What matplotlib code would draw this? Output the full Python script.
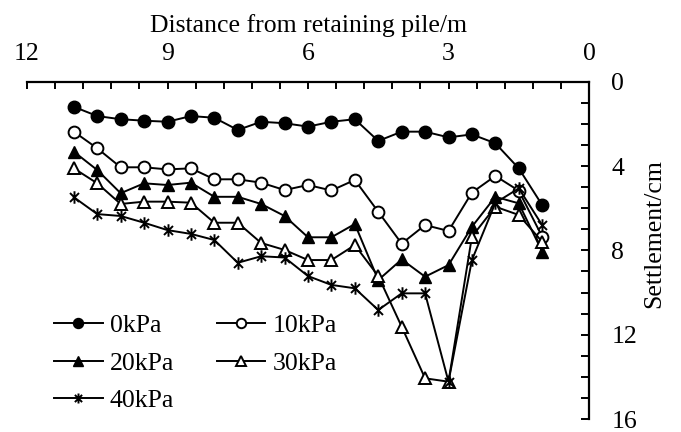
import matplotlib
matplotlib.use("Agg")
import matplotlib.pyplot as plt
from matplotlib.path import Path
from matplotlib.ticker import MultipleLocator, FixedLocator

plt.rcParams['font.family'] = ['Liberation Serif', 'DejaVu Serif']

distance = [11, 10.5, 10, 9.5, 9, 8.5, 8, 7.5, 7, 6.5, 6, 5.5, 5, 4.5, 4, 3.5, 3, 2.5, 2, 1.5, 1]

s0 = [1.19, 1.63, 1.78, 1.85, 1.90, 1.63, 1.71, 2.29, 1.90, 1.97, 2.13, 1.90, 1.78,
      2.81, 2.37, 2.37, 2.64, 2.50, 2.92, 4.11, 5.85]
s10 = [2.37, 3.16, 4.06, 4.06, 4.16, 4.11, 4.63, 4.63, 4.79, 5.14, 4.90, 5.16, 4.66,
       6.17, 7.68, 6.80, 7.08, 5.26, 4.47, 5.17, 7.35]
s20 = [3.32, 4.19, 5.29, 4.82, 4.90, 4.79, 5.46, 5.46, 5.80, 6.37, 7.38, 7.38, 6.75,
       9.41, 8.43, 9.25, 8.70, 6.88, 5.46, 5.77, 8.06]
s30 = [4.11, 4.82, 5.80, 5.69, 5.69, 5.74, 6.69, 6.69, 7.65, 7.98, 8.46, 8.46, 7.75,
       9.22, 11.62, 14.07, 14.23, 7.35, 5.93, 6.32, 7.59]
s40 = [5.48, 6.28, 6.37, 6.69, 7.04, 7.22, 7.51, 8.59, 8.28, 8.34, 9.22, 9.64, 9.80,
       10.83, 10.04, 10.04, 14.23, 8.46, 5.75, 5.06, 6.80]

labels = ['0kPa', '10kPa', '20kPa', '30kPa', '40kPa']
x_ticks = [12, 9, 6, 3, 0]
y_ticks = [0, 4, 8, 12, 16]

star = Path([(0, -1), (0, 1), (-0.72, -0.72), (0.72, 0.72), (-0.72, 0.72), (0.72, -0.72)],
            [Path.MOVETO, Path.LINETO] * 3)

FS = 18.5

fig = plt.figure(figsize=(6.81, 4.32), dpi=100)
ax = fig.add_axes([27 / 681, 1 - 419 / 432, (589 - 27) / 681, (419 - 81.7) / 432])

lw = 1.4
h0, = ax.plot(distance, s0, color='black', lw=lw, marker='o', ms=9, mfc='black', mec='black', label=labels[0])
h1, = ax.plot(distance, s10, color='black', lw=lw, marker='o', ms=8.5, mfc='white', mec='black', mew=1.4, label=labels[1])
h2, = ax.plot(distance, s20, color='black', lw=lw, marker='^', ms=9, mfc='black', mec='black', label=labels[2])
h3, = ax.plot(distance, s30, color='black', lw=lw, marker='^', ms=9, mfc='white', mec='black', mew=1.4, label=labels[3])
h4, = ax.plot(distance, s40, color='black', lw=lw, marker=star, ms=9, mfc='none', mec='black', mew=1.4, label=labels[4])

ax.set_xlim(12, 0)
ax.set_ylim(16, 0)

for side in ['left', 'bottom']:
    ax.spines[side].set_visible(False)
for side in ['top', 'right']:
    ax.spines[side].set_linewidth(1.6)

ax.xaxis.set_ticks_position('top')
ax.xaxis.set_label_position('top')
ax.yaxis.set_ticks_position('right')
ax.yaxis.set_label_position('right')

ax.xaxis.set_major_locator(FixedLocator(x_ticks))
ax.xaxis.set_minor_locator(MultipleLocator(0.6))
ax.yaxis.set_major_locator(FixedLocator(y_ticks))
ax.yaxis.set_minor_locator(MultipleLocator(1))

ax.tick_params(axis='x', which='both', direction='in', length=5, width=1.4, top=True, bottom=False,
               labeltop=True, labelbottom=False, labelsize=FS, pad=12)
ax.tick_params(axis='y', which='both', direction='in', length=6, width=1.4, right=True, left=False,
               labelright=True, labelleft=False, labelsize=FS, pad=16)

ax.set_xlabel('Distance from retaining pile/m', fontsize=FS, labelpad=8)
ax.set_ylabel('Settlement/cm', fontsize=FS, rotation=90)
ax.yaxis.set_label_coords(1.097, 0.55)

handles = [h0, h2, h4, h1, h3]
leg = ax.legend(handles, [h.get_label() for h in handles], ncol=2, frameon=False,
                loc='upper left', bbox_to_anchor=(54 / 681, 1 - 314 / 432),
                bbox_transform=fig.transFigure, fontsize=FS, handlelength=1.9,
                handletextpad=0.27, columnspacing=1.65, labelspacing=0.57, borderpad=0,
                borderaxespad=0, markerscale=0.8)

fig.savefig('out.png', dpi=100)
